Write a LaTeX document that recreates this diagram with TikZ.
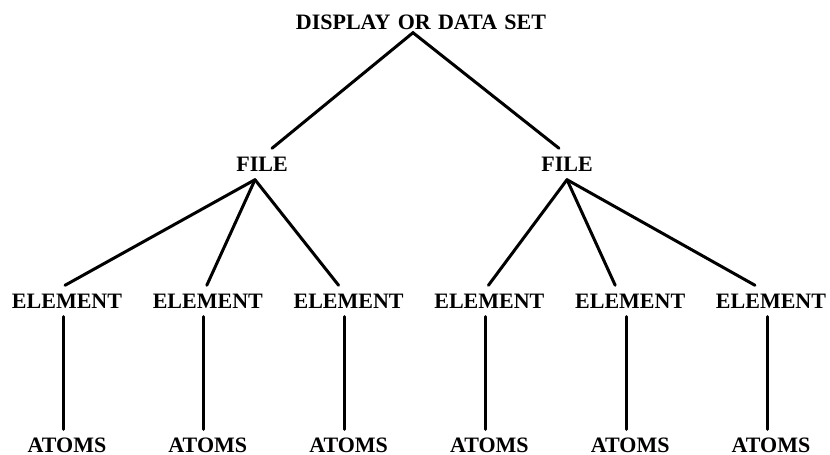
\documentclass[tikz,border=0pt]{standalone}
\usepackage{fontspec}
\setmainfont{Liberation Serif}
\usetikzlibrary{matrix}

\begin{document}
\begin{tikzpicture}[
			 x=1pt, y=-1pt,
			 font=\bfseries\fontsize{22}{26}\selectfont,
			 every matrix/.style={column sep=4.8pt, row sep=113pt},
			 entry/.style={anchor=center, text width=120pt, align=center, inner sep=8pt, text height=15pt, text depth=0pt},
			 link/.style={line width=3pt, line cap=round}
			 ]
			 \useasboundingbox (0,0) rectangle (830,455);

			 \node[entry, text width=260pt, inner sep=3pt] (root) at (421,22) {DISPLAY OR DATA SET};
			 \node[entry, text width=60pt] (f1) at (262,164) {FILE};
			 \node[entry, text width=60pt] (f2) at (567,164) {FILE};

			 \matrix (table) at (419,373) [matrix of nodes, nodes={entry}, ampersand replacement=\&]
			 {
				  	|(e1)| ELEMENT \& |(e2)| ELEMENT \& |(e3)| ELEMENT \& |(e4)| ELEMENT \& |(e5)| ELEMENT \& |(e6)| ELEMENT \\
				  	|(a1)| ATOMS \& |(a2)| ATOMS \& |(a3)| ATOMS \& |(a4)| ATOMS \& |(a5)| ATOMS \& |(a6)| ATOMS \\
			 };

			 \draw[link] ([xshift=10pt]f1.north) -- ([xshift=-8pt]root.south) -- ([xshift=-8pt]f2.north);
			 \foreach \e/\dx in {e1/-2, e2/-1, e3/-10}
				  	\draw[link] ([xshift=-7pt]f1.south) -- ([xshift=\dx pt]\e.north);
			 \foreach \e/\dx in {e4/-1, e5/-15, e6/-16}
				  	\draw[link] (f2.south) -- ([xshift=\dx pt]\e.north);
			 \foreach \i in {1,...,6}
				  	\draw[link] ([xshift=-4pt]a\i.north) -- ([xshift=-4pt]a\i.north |- e\i.south);

		\end{tikzpicture}
\end{document}
